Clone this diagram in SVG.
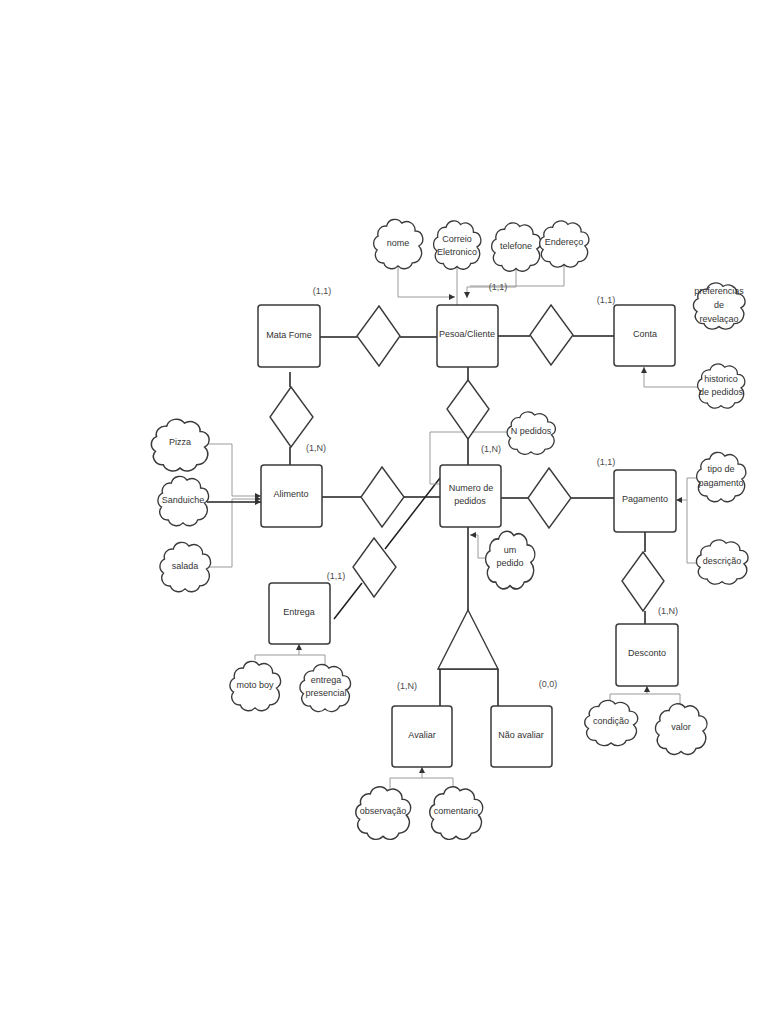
<svg xmlns="http://www.w3.org/2000/svg" width="768" height="1024" viewBox="0 0 768 1024">
<style>
.ent{fill:#fff;stroke:#3a3a3a;stroke-width:1.5}
.rel{fill:#fff;stroke:#3a3a3a;stroke-width:1.4}
.cl{fill:#fff;stroke:#3a3a3a;stroke-width:1.4}
.ln{fill:none;stroke:#1e1e1e;stroke-width:1.5}
.at{fill:none;stroke:#9a9a9a;stroke-width:1}
.t{font-family:"Liberation Sans",Arial,sans-serif;font-size:9px;fill:#333;text-anchor:middle;dominant-baseline:middle}
.c{font-family:"Liberation Sans",Arial,sans-serif;font-size:9px;fill:#4a4a4a;text-anchor:middle;dominant-baseline:middle}
</style>
<defs>
<path id="cloud" transform="scale(0.93)" d="M-12,-18 A9,9 0 0 1 4,-21 A9,9 0 0 1 18,-13 A8,8 0 0 1 22,2 A10,10 0 0 1 15,19 A9,9 0 0 1 0,22 A9,9 0 0 1 -15,19 A8,8 0 0 1 -22,6 A8,8 0 0 1 -21,-8 A8,8 0 0 1 -12,-18 Z"/>
<marker id="ar" viewBox="0 0 8 8" refX="8" refY="4" markerWidth="6" markerHeight="6" orient="auto" markerUnits="userSpaceOnUse">
<path d="M0,0 L8,4 L0,8 Z" fill="#333"/>
</marker>
</defs>
<rect width="768" height="1024" fill="#fff"/>

<g id="connectors">
<path class="ln" d="M320,337 H357 M400,337 H437"/>
<path class="ln" d="M498,336 H530 M573,336 H614"/>
<path class="ln" d="M290,372 V387 M290,447 V465"/>
<path class="ln" d="M468,367 V380 M468,439 V465"/>
<path class="ln" d="M322,497 H361 M404,497 H440"/>
<path class="ln" d="M501,498 H528 M571,498 H614"/>
<path class="ln" d="M645,532 V552 M645,611 V624"/>
<path class="ln" d="M468,527 V610"/>
<path class="ln" d="M334,619 L362,583 M385,549 L440,478"/>
<path class="ln" d="M440,669 V709 M498,669 V706"/>
<path class="ln" d="M438,669 H498"/>
<path class="at" d="M398,267 V297 H455" marker-end="url(#ar)"/>
<path class="at" d="M457,268 V323 H467 V310" marker-end="url(#ar)"/>
<path class="at" d="M516,270 V287 H467 V298" marker-end="url(#ar)"/>
<path class="at" d="M564,265 V286 H470"/>
<path class="at" d="M700,387 H644 V367" marker-end="url(#ar)"/>
<path class="at" d="M207,444 H232 V496 H261" marker-end="url(#ar)"/>
<path class="at" d="M208,567 H232 V499 H261" marker-end="url(#ar)"/>
<path d="M207,502 H261" fill="none" stroke="#222" stroke-width="1.4" marker-end="url(#ar)"/>
<path class="at" d="M509,432 H430 V484 H470 V467" marker-end="url(#ar)"/>
<path class="at" d="M487,558 H478 V535 H470" marker-end="url(#ar)"/>
<path class="at" d="M698,478 H687 V500 H676" marker-end="url(#ar)"/>
<path class="at" d="M698,563 H687 V500"/>
<path class="at" d="M255,660 V655 H325 V665"/>
<path class="at" d="M299,655 V644" marker-end="url(#ar)"/>
<path class="at" d="M390,788 V778 H453 V788"/>
<path class="at" d="M422,778 V767" marker-end="url(#ar)"/>
<path class="at" d="M610,702 V694 H680 V705"/>
<path class="at" d="M647,694 V686" marker-end="url(#ar)"/>
</g>

<g id="cardinalities">
<text class="c" x="322" y="292">(1,1)</text>
<text class="c" x="498" y="288">(1,1)</text>
<text class="c" x="606" y="301">(1,1)</text>
<text class="c" x="316" y="449">(1,N)</text>
<text class="c" x="491" y="450">(1,N)</text>
<text class="c" x="606" y="463">(1,1)</text>
<text class="c" x="336" y="577">(1,1)</text>
<text class="c" x="668" y="612">(1,N)</text>
<text class="c" x="407" y="687">(1,N)</text>
<text class="c" x="548" y="685">(0,0)</text>
</g>

<g id="mata-fome"><rect class="ent" x="258" y="305" width="62" height="62" rx="3"/><text class="t" x="289" y="336">Mata Fome</text></g>
<g id="pessoa-cliente"><rect class="ent" x="437" y="305" width="61" height="62" rx="3"/><text class="t" x="467" y="335">Pesoa/Cliente</text></g>
<g id="conta"><rect class="ent" x="614" y="305" width="61" height="61" rx="3"/><text class="t" x="645" y="335">Conta</text></g>
<g id="alimento"><rect class="ent" x="261" y="465" width="61" height="62" rx="3"/><text class="t" x="291" y="495">Alimento</text></g>
<g id="numero-pedidos"><rect class="ent" x="440" y="465" width="61" height="62" rx="3"/><text class="t" x="471" y="489">Numero de</text><text class="t" x="470" y="502">pedidos</text></g>
<g id="pagamento"><rect class="ent" x="614" y="470" width="62" height="62" rx="3"/><text class="t" x="645" y="500">Pagamento</text></g>
<g id="entrega"><rect class="ent" x="269" y="583" width="61" height="61" rx="3"/><text class="t" x="299" y="613">Entrega</text></g>
<g id="avaliar"><rect class="ent" x="392" y="706" width="60" height="61" rx="3"/><text class="t" x="422" y="736">Avaliar</text></g>
<g id="nao-avaliar"><rect class="ent" x="491" y="706" width="61" height="61" rx="3"/><text class="t" x="521" y="736">Não avaliar</text></g>
<g id="desconto"><rect class="ent" x="616" y="624" width="62" height="62" rx="3"/><text class="t" x="647" y="654">Desconto</text></g>

<g id="rel-matafome-pessoa"><polygon class="rel" points="379,306 400,336 379,366 357,336"/></g>
<g id="rel-pessoa-conta"><polygon class="rel" points="551,305 573,335 551,365 530,335"/></g>
<g id="rel-matafome-alimento"><polygon class="rel" points="291,387 313,417 291,447 270,417"/></g>
<g id="rel-pessoa-numero"><polygon class="rel" points="468,380 489,409 468,439 447,409"/></g>
<g id="rel-alimento-numero"><polygon class="rel" points="382,467 404,497 382,527 361,497"/></g>
<g id="rel-numero-pagamento"><polygon class="rel" points="549,468 571,498 549,528 528,498"/></g>
<g id="rel-pagamento-desconto"><polygon class="rel" points="643,552 664,581 643,611 622,581"/></g>
<g id="rel-entrega"><polygon class="rel" points="374,538 396,567 374,597 353,567"/></g>
<g id="especializacao"><polygon class="rel" points="468,610 498,669 438,669"/></g>

<g id="attr-nome"><use href="#cloud" class="cl" transform="translate(398,244) scale(1.02,1.07)"/><text class="t" x="398" y="244">nome</text></g>
<g id="attr-correio"><use href="#cloud" class="cl" transform="translate(457,245) scale(0.98,1.05)"/><text class="t" x="457" y="240">Correio</text><text class="t" x="457" y="253">Eletronico</text></g>
<g id="attr-telefone"><use href="#cloud" class="cl" transform="translate(516,247) scale(1.02,1.05)"/><text class="t" x="516" y="247">telefone</text></g>
<g id="attr-endereco"><use href="#cloud" class="cl" transform="translate(564,244) scale(1.02,1)"/><text class="t" x="564" y="243">Endereço</text></g>
<g id="attr-preferencias"><use href="#cloud" class="cl" transform="translate(719,306) scale(1.07,1)"/><text class="t" x="719" y="292">preferencias</text><text class="t" x="719" y="306">de</text><text class="t" x="719" y="320">revelaçao</text></g>
<g id="attr-historico"><use href="#cloud" class="cl" transform="translate(721,386) scale(0.98,0.96)"/><text class="t" x="721" y="380">historico</text><text class="t" x="721" y="393">de pedidos</text></g>
<g id="attr-pizza"><use href="#cloud" class="cl" transform="translate(180,445) scale(1.2,1.12)"/><text class="t" x="180" y="443">Pizza</text></g>
<g id="attr-sanduiche"><use href="#cloud" class="cl" transform="translate(183,501) scale(1.05,1.07)"/><text class="t" x="183" y="501">Sanduiche</text></g>
<g id="attr-salada"><use href="#cloud" class="cl" transform="translate(185,567) scale(1.05,1.07)"/><text class="t" x="185" y="567">salada</text></g>
<g id="attr-npedidos"><use href="#cloud" class="cl" transform="translate(531,433) scale(1,0.92)"/><text class="t" x="531" y="432">N pedidos</text></g>
<g id="attr-umpedido"><use href="#cloud" class="cl" transform="translate(510,560) scale(1.02,1.25)"/><text class="t" x="510" y="551">um</text><text class="t" x="510" y="564">pedido</text></g>
<g id="attr-tipo"><use href="#cloud" class="cl" transform="translate(721,477) scale(1.02,1.07)"/><text class="t" x="721" y="470">tipo de</text><text class="t" x="721" y="484">pagamento</text></g>
<g id="attr-descricao"><use href="#cloud" class="cl" transform="translate(722,562) scale(1.07,0.96)"/><text class="t" x="722" y="562">descrição</text></g>
<g id="attr-motoboy"><use href="#cloud" class="cl" transform="translate(255,686) scale(1.05,1.07)"/><text class="t" x="255" y="686">moto boy</text></g>
<g id="attr-presencial"><use href="#cloud" class="cl" transform="translate(325,688) scale(1.05,1.02)"/><text class="t" x="326" y="681">entrega</text><text class="t" x="326" y="694">presencial</text></g>
<g id="attr-observacao"><use href="#cloud" class="cl" transform="translate(383,813) scale(1.14,1.14)"/><text class="t" x="383" y="812">observação</text></g>
<g id="attr-comentario"><use href="#cloud" class="cl" transform="translate(456,813) scale(1.1,1.14)"/><text class="t" x="456" y="812">comentario</text></g>
<g id="attr-condicao"><use href="#cloud" class="cl" transform="translate(611,723) scale(1.1,0.98)"/><text class="t" x="611" y="722">condição</text></g>
<g id="attr-valor"><use href="#cloud" class="cl" transform="translate(681,729) scale(1.07,1.1)"/><text class="t" x="681" y="728">valor</text></g>
</svg>
